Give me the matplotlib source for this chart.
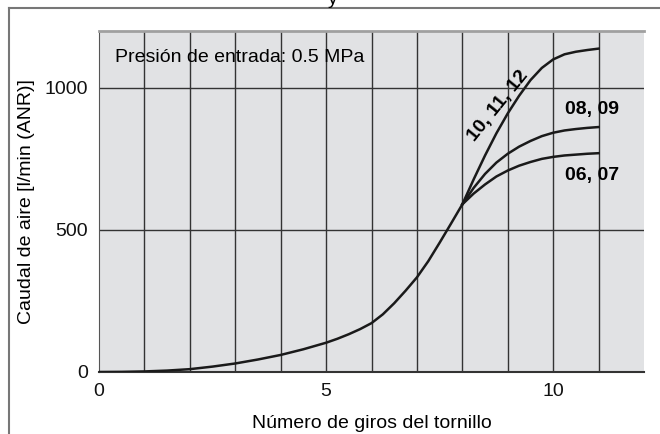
import matplotlib.pyplot as plt
from matplotlib.lines import Line2D

plt.rcParams['font.family'] = ['Liberation Sans', 'DejaVu Sans']

# common part of the curve (all sizes)
giros_base = [0, 0.5, 1, 1.5, 2, 2.5, 3, 3.5, 4, 4.5, 5, 5.25, 5.5, 5.75, 6,
              6.25, 6.5, 6.75, 7, 7.25, 7.5, 7.75, 8]
caudal_base = [0, 0.5, 2, 5, 10, 19, 30, 44, 60, 80, 103, 117, 133, 151, 172,
               203, 242, 286, 333, 390, 455, 522, 590]

# branches after ~8 turns
giros_rama = [8, 8.25, 8.5, 8.75, 9, 9.25, 9.5, 9.75, 10, 10.25, 10.5, 10.75, 11]
caudal_10_12 = [590, 678, 762, 840, 910, 972, 1027, 1070, 1100, 1118, 1127, 1133, 1138]
caudal_08_09 = [590, 648, 697, 737, 768, 793, 813, 830, 842, 850, 855, 859, 862]
caudal_06_07 = [590, 628, 660, 688, 709, 726, 739, 750, 757, 762, 765, 768, 770]

fig = plt.figure(figsize=(6.6, 4.34), dpi=100)
ax = fig.add_axes([99/660, 1 - 372/434, 545/660, 341/434])
ax.set_facecolor('#e1e2e4')

lc = '#1a1a1a'
ax.plot(giros_base, caudal_base, color=lc, lw=1.8, zorder=3)
for c in (caudal_10_12, caudal_08_09, caudal_06_07):
    ax.plot(giros_rama, c, color=lc, lw=1.8, zorder=3)

ax.set_xlim(0, 12)
ax.set_ylim(0, 1200)
for xv in range(1, 12):
    ax.axvline(xv, color='#333333', lw=1.0, zorder=1)
for yv in (500, 1000):
    ax.axhline(yv, color='#333333', lw=1.0, zorder=1)

ax.set_xticks([0, 5, 10])
ax.set_yticks([0, 500, 1000])
ax.tick_params(length=0, labelsize=14, pad=8, colors='#111111')
ax.spines['right'].set_visible(False)
ax.spines['top'].set_color('#a0a0a0')
ax.spines['top'].set_linewidth(2)
ax.spines['bottom'].set_color('#333333')
ax.spines['bottom'].set_linewidth(1.5)
ax.spines['left'].set_color('#555555')
ax.spines['left'].set_linewidth(0.8)

ax.set_xlabel('Número de giros del tornillo', fontsize=14, labelpad=11)
ax.set_ylabel('Caudal de aire [l/min (ANR)]', fontsize=14, labelpad=7)

ax.text(0.35, 1107, 'Presión de entrada: 0.5 MPa', fontsize=14, va='center', ha='left')
ax.text(8.78, 935, '10, 11, 12', fontsize=14, fontweight='bold', rotation=51,
        ha='center', va='center')
ax.text(10.85, 925, '08, 09', fontsize=14, fontweight='bold', ha='center', va='center')
ax.text(10.85, 690, '06, 07', fontsize=14, fontweight='bold', ha='center', va='center')

# outer frame of the page
fig.add_artist(Line2D([8.5/660, 1], [1 - 7.5/434] * 2, color='#777777', lw=1.5,
                      transform=fig.transFigure))
fig.add_artist(Line2D([8.5/660] * 2, [0, 1 - 7.5/434], color='#777777', lw=1.5,
                      transform=fig.transFigure))
fig.text(333/660, 1.0, 'y', fontsize=14, ha='center', va='center')

fig.savefig('out.png', dpi=100)
